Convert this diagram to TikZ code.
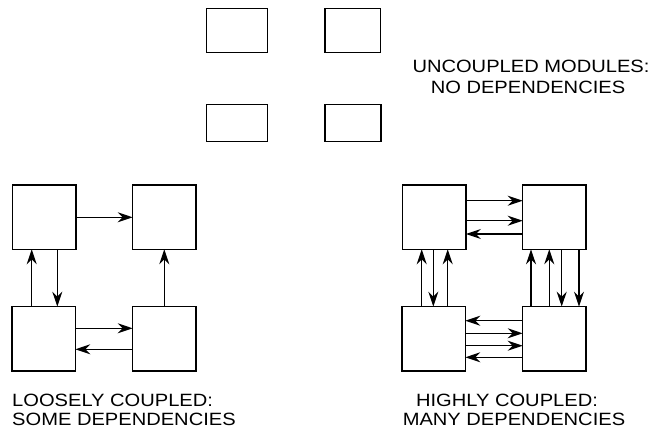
\documentclass[tikz,border=0pt]{standalone}
\usepackage{fontspec}
\newfontfamily\labfont[FakeStretch=1.13]{Liberation Sans}
\usetikzlibrary{arrows.meta}
\begin{document}
\begin{tikzpicture}[x=1pt,y=-1pt,
 box/.style={draw, line width=1.4pt, inner sep=0pt, outer sep=0pt},
 sq/.style={box, minimum width=63.3pt, minimum height=64.2pt},
 arr/.style={-{Stealth[length=15pt,width=10pt,inset=5pt]}, line width=1.2pt},
 lab/.style={font=\labfont\fontsize{17.8}{19}\selectfont, inner sep=0pt, anchor=base}]
\useasboundingbox (0,0) rectangle (654,434);
% uncoupled
\node[box, minimum width=60.6pt, minimum height=44.4pt] (u1) at (237,30.5) {};
\node[box, minimum width=55.5pt, minimum height=44pt] (u2) at (352.7,30.3) {};
\node[box, minimum width=60.6pt, minimum height=37.4pt] (u3) at (237,123) {};
\node[box, minimum width=56pt, minimum height=37.4pt] (u4) at (353,123) {};
\node[lab] (ut1) at (531,72.5) {UNCOUPLED MODULES:};
\node[lab] (ut2) at (528,93) {NO DEPENDENCIES};
% loosely
\node[sq] (l1) at (44.3,217.2) {};
\node[sq] (l2) at (164.3,217.2) {};
\node[sq] (l3) at (43.7,338.7) {};
\node[sq] (l4) at (164.3,338.7) {};
\draw[arr] (l1.east |- 0,217.3) -- (l2.west |- 0,217.3);
\draw[arr] (l3.north -| 31.7,0) -- (l1.south -| 31.7,0);
\draw[arr] (l1.south -| 57.3,0) -- (l3.north -| 57.3,0);
\draw[arr] (l4.north -| 164.3,0) -- (l2.south -| 164.3,0);
\draw[arr] (l3.east |- 0,328.3) -- (l4.west |- 0,328.3);
\draw[arr] (l4.west |- 0,349.3) -- (l3.east |- 0,349.3);
\node[lab, anchor=base west] (lt1) at (12,406.7) {LOOSELY COUPLED:};
\node[lab, anchor=base west] (lt2) at (12,425) {SOME DEPENDENCIES};
% highly
\node[sq] (h1) at (434.3,217.2) {};
\node[sq] (h2) at (554.3,217.2) {};
\node[sq] (h3) at (433.7,338.7) {};
\node[sq] (h4) at (554.3,338.7) {};
\draw[arr] (h1.east |- 0,200.7) -- (h2.west |- 0,200.7);
\draw[arr] (h1.east |- 0,220.7) -- (h2.west |- 0,220.7);
\draw[arr] (h2.west |- 0,234) -- (h1.east |- 0,234);
\draw[arr] (h3.north -| 421.7,0) -- (h1.south -| 421.7,0);
\draw[arr] (h1.south -| 433.3,0) -- (h3.north -| 433.3,0);
\draw[arr] (h3.north -| 447.7,0) -- (h1.south -| 447.7,0);
\draw[arr] (h4.north -| 531,0) -- (h2.south -| 531,0);
\draw[arr] (h4.north -| 549.3,0) -- (h2.south -| 549.3,0);
\draw[arr] (h2.south -| 561.7,0) -- (h4.north -| 561.7,0);
\draw[arr] (h2.south -| 579,0) -- (h4.north -| 579,0);
\draw[arr] (h4.west |- 0,320.7) -- (h3.east |- 0,320.7);
\draw[arr] (h3.east |- 0,333.3) -- (h4.west |- 0,333.3);
\draw[arr] (h3.east |- 0,345.7) -- (h4.west |- 0,345.7);
\draw[arr] (h4.west |- 0,357.3) -- (h3.east |- 0,357.3);
\node[lab] (ht1) at (507,406.7) {HIGHLY COUPLED:};
\node[lab] (ht2) at (514,425) {MANY DEPENDENCIES};
\end{tikzpicture}
\end{document}
